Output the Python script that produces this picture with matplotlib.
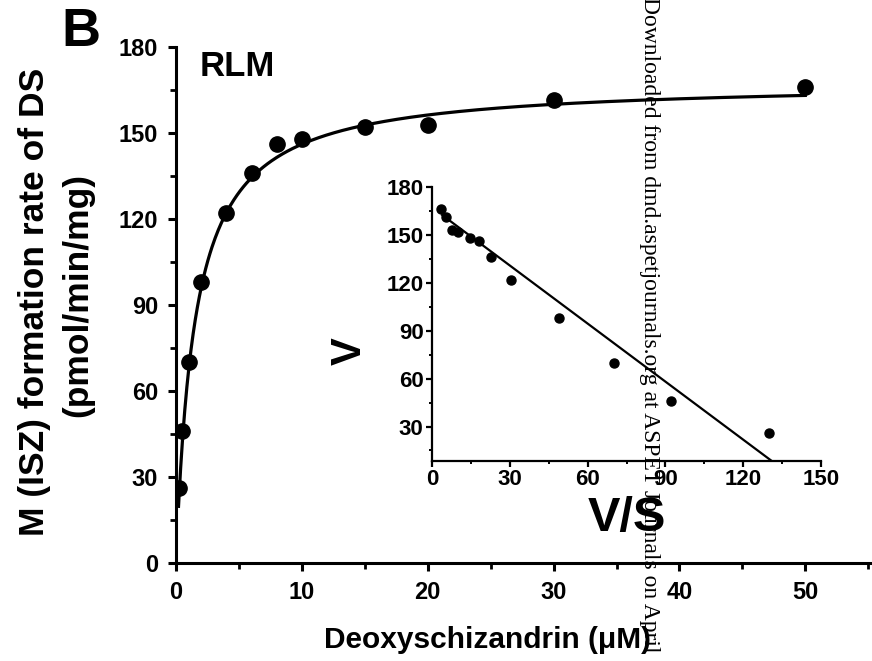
import numpy as np
import matplotlib
matplotlib.use("Agg")
import matplotlib.pyplot as plt
from matplotlib.ticker import MultipleLocator

# ---- data ----
conc = [0.2, 0.5, 1, 2, 4, 6, 8, 10, 15, 20, 30, 50]          # Deoxyschizandrin (uM)
rate = [26, 46, 70, 98, 122, 136, 146, 148, 152, 152.8, 161.5, 166]  # pmol/min/mg
# Michaelis-Menten fit shown in main panel
vmax_fit = 168.0
km_fit = 1.5
# Eadie-Hofstee regression shown in inset
eh_intercept = 167.2
eh_slope = -1.212
eh_line_x = [3.9, 131.0]

main_xticks = [0, 10, 20, 30, 40, 50]
main_yticks = [0, 30, 60, 90, 120, 150, 180]
inset_xticks = [0, 30, 60, 90, 120, 150]
inset_yticks = [30, 60, 90, 120, 150, 180]

plt.rcParams['font.family'] = ['Liberation Sans', 'DejaVu Sans']
plt.rcParams['font.weight'] = 'bold'

W, H = 872, 661
fig = plt.figure(figsize=(W / 100, H / 100), dpi=100)

def px_box(l, r, b, t):
    return [l / W, (H - b) / H, (r - l) / W, (b - t) / H]

# ---- main axes ----
ax = fig.add_axes(px_box(176, 872, 563, 47))
s_curve = np.linspace(conc[0], conc[-1], 600)
ax.plot(s_curve, vmax_fit * s_curve / (km_fit + s_curve), color='black', lw=2.3, zorder=2)
ax.plot(conc, rate, 'o', color='black', ms=11, zorder=3)
ax.set_xlim(0, 55.3)
ax.set_ylim(0, 180)
for sp in ['top', 'right']:
    ax.spines[sp].set_visible(False)
for sp in ['left', 'bottom']:
    ax.spines[sp].set_linewidth(2.2)
ax.set_xticks(main_xticks)
ax.set_yticks(main_yticks)
ax.xaxis.set_minor_locator(MultipleLocator(5))
ax.yaxis.set_minor_locator(MultipleLocator(15))
ax.tick_params(which='major', direction='out', length=6, width=2.2, labelsize=17, pad=7)
ax.tick_params(which='minor', direction='out', length=4, width=2.0)
for lab in ax.get_xticklabels() + ax.get_yticklabels():
    lab.set_fontweight('bold')

# ---- inset ----
ai = fig.add_axes(px_box(432, 821, 461, 187))
vs = [r / c for r, c in zip(rate, conc)]
ex = np.array(eh_line_x)
ai.plot(ex, eh_intercept + eh_slope * ex, color='black', lw=1.6, zorder=2)
ai.plot(vs, rate, 'o', color='black', ms=6.5, zorder=3, clip_on=False)
ai.set_xlim(0, 150)
ai.set_ylim(8.4, 180)
for sp in ['top', 'right']:
    ai.spines[sp].set_visible(False)
for sp in ['left', 'bottom']:
    ai.spines[sp].set_linewidth(1.6)
ai.set_xticks(inset_xticks)
ai.set_yticks(inset_yticks)
ai.xaxis.set_minor_locator(MultipleLocator(15))
ai.yaxis.set_minor_locator(MultipleLocator(15))
ai.tick_params(which='major', direction='out', length=4, width=1.6, labelsize=16, pad=2)
ai.tick_params(which='minor', direction='out', length=2.5, width=1.4)
for lab in ai.get_xticklabels() + ai.get_yticklabels():
    lab.set_fontweight('bold')

# ---- texts ----
fig.text(81 / W, 1 - 32 / H, 'B', fontsize=39, fontweight='bold', ha='center', va='center')
fig.text(237 / W, 1 - 67 / H, 'RLM', fontsize=25, fontweight='bold', ha='center', va='center')
fig.text(487 / W, 1 - 640 / H, 'Deoxyschizandrin (\u03bcM)', fontsize=21.5, fontweight='bold',
         ha='center', va='center')
fig.text(35 / W, 1 - 302 / H, 'M (ISZ) formation rate of DS', fontsize=25.5, fontweight='bold',
         rotation=90, ha='center', va='center')
fig.text(78 / W, 1 - 295 / H, '(pmol/min/mg)', fontsize=25.5, fontweight='bold',
         rotation=90, ha='center', va='center')
fig.text(350 / W, 1 - 351 / H, 'V', fontsize=30, fontweight='bold', rotation=90,
         ha='center', va='center')
fig.text(627 / W, 1 - 518 / H, 'V/S', fontsize=35, fontweight='bold', ha='center', va='center')

# watermark
fig.text(649 / W, 1 + 3 / H, 'Downloaded from dmd.aspetjournals.org at ASPET Journals on April',
         fontsize=17, family=['Liberation Serif', 'DejaVu Serif'], fontweight='normal',
         rotation=-90, ha='center', va='top', color='black', zorder=10)

fig.savefig('out.png', dpi=100)
